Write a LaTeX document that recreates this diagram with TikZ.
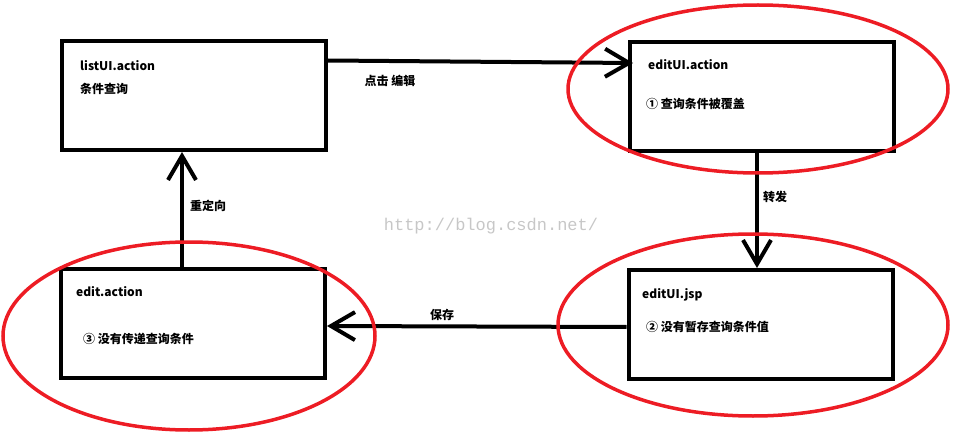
\documentclass[tikz,border=0pt]{standalone}
\usepackage{fontspec}
\setmainfont{Noto Sans CJK SC}
\newfontfamily\webfont{Liberation Mono}
\usepackage{xcolor}
\usepackage{tikz}
\usetikzlibrary{arrows.meta, positioning}

\definecolor{ringred}{RGB}{237,28,36}

\begin{document}
\begin{tikzpicture}[
  x=1pt, y=-1pt,
  box/.style={rectangle, draw, line width=4pt, minimum width=264pt, minimum height=109pt, inner sep=0pt},
  txt/.style={anchor=west, inner sep=0pt, font=\bfseries\fontsize{12}{14}\selectfont},
  flow/.style={line width=4pt, -{Straight Barb[length=24pt, width=28pt, line width=4pt]}},
  ring/.style={draw=ringred, line width=3.5pt},
  wm/.style={inner sep=0pt, text=black!22, font=\webfont\fontsize{17}{20}\selectfont}
]
\useasboundingbox (0,0) rectangle (962,433);

% boxes
\node[box] (list) at (194,95.5) {};
\node[box] (editui) at (762,97) {};
\node[box] (edit) at (193,323.5) {};
\node[box] (jsp) at (760.5,324.5) {};

% texts in boxes
\node[txt] (list-name) at (80,66) {listUI.action};
\node[txt] (list-note) at (80,89) {条件查询};
\node[txt] (editui-name) at (648,65) {editUI.action};
\node[txt] (editui-note) at (646,104) {① 查询条件被覆盖};
\node[txt] (edit-name) at (76,292) {edit.action};
\node[txt] (edit-note) at (83,339) {③ 没有传递查询条件};
\node[txt] (jsp-name) at (642,295) {editUI.jsp};
\node[txt] (jsp-note) at (646,327) {② 没有暂存查询条件值};

\node[wm] (watermark) at (491,226) {http://blog.csdn.net/};

% connectors
\draw[flow] ([yshift=35pt]list.east) -- ([xshift=5pt,yshift=34pt]editui.west);
\draw[flow] ([xshift=-5pt]editui.south) -- ([xshift=-3.5pt]jsp.north);
\draw[flow] ([yshift=-2.5pt]jsp.west) -- ([yshift=-2.5pt]edit.east);
\draw[flow] ([xshift=-11pt]edit.north) -- ([xshift=-12pt]list.south);

% labels
\node[txt, anchor=center] (click) at (390,81) {点击 编辑};
\node[txt, anchor=center] (forward) at (775,197) {转发};
\node[txt, anchor=center] (save) at (442,315) {保存};
\node[txt, anchor=center] (redirect) at (208,206) {重定向};

% red rings
\draw[ring] (758,89) ellipse [x radius=190pt, y radius=84pt];
\draw[ring] (189,336) ellipse [x radius=186pt, y radius=94pt];
\draw[ring] (753,325) ellipse [x radius=195pt, y radius=91pt];
\end{tikzpicture}
\end{document}
